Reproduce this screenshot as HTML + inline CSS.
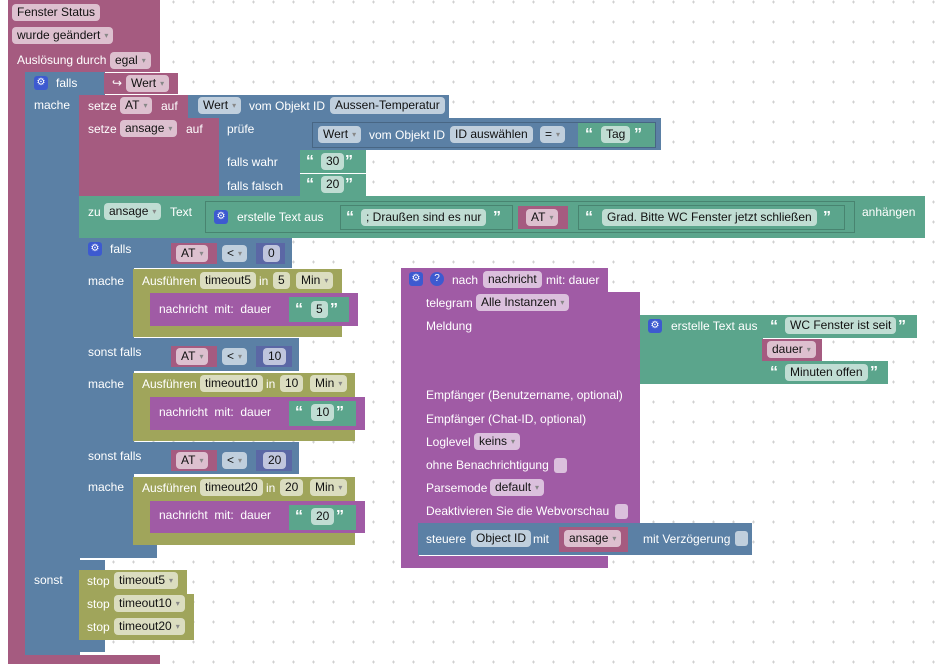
<!DOCTYPE html>
<html><head><meta charset="utf-8"><style>
body{margin:0;width:940px;height:671px;overflow:hidden;background:#fff;
background-image:linear-gradient(#d4d4d4,#d4d4d4),linear-gradient(#d4d4d4,#d4d4d4);background-size:20px 20px,20px 20px;
font-family:"Liberation Sans",Arial,sans-serif;font-size:12px;position:relative}
.grid{position:absolute;left:0;top:0;width:940px;height:671px;
background-image:linear-gradient(to right,transparent 12px,#d0d0d0 12px,#d0d0d0 13px,transparent 13px),linear-gradient(to bottom,transparent 1px,#d0d0d0 1px,#d0d0d0 2px,transparent 2px);
background-size:20px 20px;opacity:0}
div,span{position:absolute;box-sizing:border-box}
.pk{background:#a55b80}.bl{background:#5b80a5}.gr{background:#5ba58c}.ol{background:#a0a55b}.pu{background:#a05ba5}.nb{background:#5b67a5}
.t{color:#fff;white-space:nowrap;line-height:14px}
.p{background:rgba(255,255,255,.62);color:#111;border-radius:4px;height:17px;line-height:17px;padding:0 5px;white-space:nowrap}
.a{color:#888;font-size:8px;margin-left:4px;position:static;vertical-align:1px}
.in{border:1px solid rgba(0,0,0,.2)}
.g{background:#3d5ad0;border-radius:3px;width:14px;height:14px;color:#fff;font-size:10px;text-align:center;line-height:14px}
.q{color:#fff;font-weight:bold;font-size:16px;line-height:16px}
.cb{background:rgba(255,255,255,.62);border-radius:3px;width:13px;height:15px}
</style></head><body style="background-image:none">
<svg style="position:absolute;left:0;top:0" width="940" height="671"><defs><pattern id="d" width="20" height="20" patternUnits="userSpaceOnUse" x="3" y="-8"><path d="M9 10h3M10.5 8.5v3" stroke="#d0d0d0" stroke-width="1"/></pattern></defs><rect width="940" height="671" fill="url(#d)"/></svg>
<!-- main event block -->
<div class="pk" style="left:8px;top:0;width:152px;height:72px"></div>
<div class="pk" style="left:8px;top:72px;width:18px;height:592px"></div>
<div class="pk" style="left:8px;top:655px;width:152px;height:9px"></div>
<span class="p" style="left:12px;top:4px">Fenster Status</span>
<span class="p" style="left:12px;top:27px">wurde geändert<span class="a">▾</span></span>
<span class="t" style="left:17px;top:53px">Auslösung durch</span>
<span class="p" style="left:110px;top:52px">egal<span class="a">▾</span></span>
<!-- outer if -->
<div class="bl" style="left:25px;top:72px;width:80px;height:23px"></div>
<div class="bl" style="left:25px;top:95px;width:55px;height:560px"></div>
<div class="bl" style="left:25px;top:560px;width:80px;height:92px"></div>
<div class="g" style="left:34px;top:76px">⚙</div>
<span class="t" style="left:56px;top:76px">falls</span>
<span class="t" style="left:34px;top:98px">mache</span>
<span class="t" style="left:34px;top:573px">sonst</span>
<div class="pk" style="left:104px;top:73px;width:74px;height:21px"></div>
<span class="t" style="left:112px;top:76px">↪</span>
<span class="p" style="left:126px;top:75px">Wert<span class="a">▾</span></span>
<!-- setze AT -->
<div class="pk" style="left:79px;top:95px;width:110px;height:23px"></div>
<span class="t" style="left:88px;top:99px">setze</span>
<span class="p" style="left:120px;top:97px">AT<span class="a">▾</span></span>
<span class="t" style="left:161px;top:99px">auf</span>
<div class="bl" style="left:188px;top:95px;width:261px;height:23px"></div>
<span class="p" style="left:198px;top:97px">Wert<span class="a">▾</span></span>
<span class="t" style="left:249px;top:99px">vom Objekt ID</span>
<span class="p" style="left:330px;top:97px">Aussen-Temperatur</span>
<!-- setze ansage -->
<div class="pk" style="left:79px;top:118px;width:141px;height:78px"></div>
<span class="t" style="left:88px;top:122px">setze</span>
<span class="p" style="left:120px;top:120px">ansage<span class="a">▾</span></span>
<span class="t" style="left:186px;top:122px">auf</span>
<div class="bl" style="left:219px;top:118px;width:81px;height:78px"></div>
<div class="bl" style="left:299px;top:118px;width:362px;height:32px"></div>
<span class="t" style="left:227px;top:122px">prüfe</span>
<div class="bl in" style="left:312px;top:122px;width:344px;height:26px"></div>
<span class="p" style="left:318px;top:126px">Wert<span class="a">▾</span></span>
<span class="t" style="left:369px;top:128px">vom Objekt ID</span>
<span class="p" style="left:450px;top:126px">ID auswählen</span>
<span class="p" style="left:540px;top:126px">=<span class="a">▾</span></span>
<div class="gr" style="left:578px;top:123px;width:77px;height:24px"></div>
<span class="q" style="left:585px;top:127px">“</span>
<span class="p" style="left:601px;top:126px">Tag</span>
<span class="q" style="left:634px;top:127px">”</span>
<span class="t" style="left:227px;top:155px">falls wahr</span>
<div class="gr" style="left:300px;top:150px;width:66px;height:23px"></div>
<span class="q" style="left:306px;top:154px">“</span><span class="p" style="left:321px;top:153px">30</span><span class="q" style="left:345px;top:154px">”</span>
<span class="t" style="left:227px;top:179px">falls falsch</span>
<div class="gr" style="left:300px;top:174px;width:66px;height:22px"></div>
<span class="q" style="left:306px;top:177px">“</span><span class="p" style="left:321px;top:176px">20</span><span class="q" style="left:345px;top:177px">”</span>
<!-- zu ansage Text -->
<div class="gr" style="left:79px;top:196px;width:846px;height:42px"></div>
<span class="t" style="left:88px;top:205px">zu</span>
<span class="p" style="left:104px;top:203px">ansage<span class="a">▾</span></span>
<span class="t" style="left:170px;top:205px">Text</span>
<div class="gr in" style="left:205px;top:201px;width:650px;height:32px"></div>
<div class="g" style="left:214px;top:210px">⚙</div>
<span class="t" style="left:237px;top:210px">erstelle Text aus</span>
<div class="gr in" style="left:340px;top:205px;width:173px;height:25px"></div>
<span class="q" style="left:346px;top:210px">“</span><span class="p" style="left:361px;top:209px">; Draußen sind es nur</span><span class="q" style="left:493px;top:210px">”</span>
<div class="pk" style="left:518px;top:206px;width:50px;height:23px"></div>
<span class="p" style="left:526px;top:209px">AT<span class="a">▾</span></span>
<div class="gr in" style="left:578px;top:205px;width:267px;height:25px"></div>
<span class="q" style="left:585px;top:210px">“</span><span class="p" style="left:602px;top:209px">Grad. Bitte WC Fenster jetzt schließen</span><span class="q" style="left:823px;top:210px">”</span>
<span class="t" style="left:862px;top:205px">anhängen</span>
<!-- inner if -->
<div class="bl" style="left:79px;top:238px;width:55px;height:320px"></div>
<div class="bl" style="left:79px;top:238px;width:213px;height:30px"></div>
<div class="bl" style="left:79px;top:338px;width:220px;height:33px"></div>
<div class="bl" style="left:79px;top:442px;width:220px;height:32px"></div>
<div class="bl" style="left:79px;top:545px;width:78px;height:13px"></div>
<div class="g" style="left:88px;top:242px">⚙</div>
<span class="t" style="left:110px;top:242px">falls</span>
<span class="t" style="left:88px;top:274px">mache</span>
<span class="t" style="left:88px;top:345px">sonst falls</span>
<span class="t" style="left:88px;top:377px">mache</span>
<span class="t" style="left:88px;top:449px">sonst falls</span>
<span class="t" style="left:88px;top:480px">mache</span>
<!-- conditions -->
<div class="pk" style="left:171px;top:243px;width:46px;height:21px"></div><span class="p" style="left:176px;top:245px">AT<span class="a">▾</span></span>
<span class="p" style="left:222px;top:245px">&lt;<span class="a">▾</span></span>
<div class="nb" style="left:256px;top:243px;width:29px;height:21px"></div><span class="p" style="left:263px;top:245px">0</span>
<div class="pk" style="left:171px;top:346px;width:46px;height:21px"></div><span class="p" style="left:176px;top:348px">AT<span class="a">▾</span></span>
<span class="p" style="left:222px;top:348px">&lt;<span class="a">▾</span></span>
<div class="nb" style="left:256px;top:346px;width:36px;height:21px"></div><span class="p" style="left:263px;top:348px">10</span>
<div class="pk" style="left:171px;top:450px;width:46px;height:21px"></div><span class="p" style="left:176px;top:452px">AT<span class="a">▾</span></span>
<span class="p" style="left:222px;top:452px">&lt;<span class="a">▾</span></span>
<div class="nb" style="left:256px;top:450px;width:36px;height:21px"></div><span class="p" style="left:263px;top:452px">20</span>
<!-- Ausführen 1 -->
<div class="ol" style="left:133px;top:269px;width:209px;height:24px"></div>
<div class="ol" style="left:133px;top:293px;width:18px;height:38px"></div>
<div class="ol" style="left:133px;top:325px;width:209px;height:12px"></div>
<span class="t" style="left:142px;top:274px">Ausführen</span>
<span class="p" style="left:200px;top:272px">timeout5</span><span class="t" style="left:259px;top:274px">in</span>
<span class="p" style="left:273px;top:272px">5</span><span class="p" style="left:296px;top:272px">Min<span class="a">▾</span></span>
<div class="pu" style="left:150px;top:293px;width:208px;height:33px"></div>
<span class="t" style="left:159px;top:302px">nachricht&nbsp; mit:&nbsp; dauer</span>
<div class="gr" style="left:289px;top:297px;width:60px;height:25px"></div>
<span class="q" style="left:295px;top:302px">“</span><span class="p" style="left:311px;top:301px">5</span><span class="q" style="left:330px;top:302px">”</span>
<!-- Ausführen 2 -->
<div class="ol" style="left:133px;top:373px;width:222px;height:24px"></div>
<div class="ol" style="left:133px;top:397px;width:18px;height:38px"></div>
<div class="ol" style="left:133px;top:429px;width:222px;height:12px"></div>
<span class="t" style="left:142px;top:377px">Ausführen</span>
<span class="p" style="left:200px;top:375px">timeout10</span><span class="t" style="left:266px;top:377px">in</span>
<span class="p" style="left:280px;top:375px">10</span><span class="p" style="left:310px;top:375px">Min<span class="a">▾</span></span>
<div class="pu" style="left:150px;top:397px;width:215px;height:33px"></div>
<span class="t" style="left:159px;top:405px">nachricht&nbsp; mit:&nbsp; dauer</span>
<div class="gr" style="left:289px;top:401px;width:67px;height:25px"></div>
<span class="q" style="left:295px;top:405px">“</span><span class="p" style="left:311px;top:404px">10</span><span class="q" style="left:336px;top:405px">”</span>
<!-- Ausführen 3 -->
<div class="ol" style="left:133px;top:477px;width:222px;height:24px"></div>
<div class="ol" style="left:133px;top:501px;width:18px;height:38px"></div>
<div class="ol" style="left:133px;top:533px;width:222px;height:12px"></div>
<span class="t" style="left:142px;top:481px">Ausführen</span>
<span class="p" style="left:200px;top:479px">timeout20</span><span class="t" style="left:266px;top:481px">in</span>
<span class="p" style="left:280px;top:479px">20</span><span class="p" style="left:310px;top:479px">Min<span class="a">▾</span></span>
<div class="pu" style="left:150px;top:501px;width:215px;height:32px"></div>
<span class="t" style="left:159px;top:508px">nachricht&nbsp; mit:&nbsp; dauer</span>
<div class="gr" style="left:289px;top:505px;width:67px;height:25px"></div>
<span class="q" style="left:295px;top:509px">“</span><span class="p" style="left:311px;top:508px">20</span><span class="q" style="left:336px;top:509px">”</span>
<!-- stops -->
<div class="ol" style="left:79px;top:570px;width:108px;height:24px"></div>
<span class="t" style="left:87px;top:574px">stop</span><span class="p" style="left:114px;top:572px">timeout5<span class="a">▾</span></span>
<div class="ol" style="left:79px;top:594px;width:115px;height:23px"></div>
<span class="t" style="left:87px;top:597px">stop</span><span class="p" style="left:114px;top:595px">timeout10<span class="a">▾</span></span>
<div class="ol" style="left:79px;top:617px;width:115px;height:23px"></div>
<span class="t" style="left:87px;top:620px">stop</span><span class="p" style="left:114px;top:618px">timeout20<span class="a">▾</span></span>
<!-- function block -->
<div class="pu" style="left:401px;top:268px;width:207px;height:24px"></div>
<div class="pu" style="left:401px;top:290px;width:18px;height:278px"></div>
<div class="pu" style="left:401px;top:556px;width:207px;height:12px"></div>
<div class="g" style="left:409px;top:272px">⚙</div>
<div class="g" style="left:430px;top:272px;border-radius:7px">?</div>
<span class="t" style="left:452px;top:273px">nach</span>
<span class="p" style="left:483px;top:271px">nachricht</span>
<span class="t" style="left:546px;top:273px">mit: dauer</span>
<div class="pu" style="left:418px;top:292px;width:222px;height:232px"></div>
<span class="t" style="left:426px;top:296px">telegram</span>
<span class="p" style="left:476px;top:294px">Alle Instanzen<span class="a">▾</span></span>
<span class="t" style="left:426px;top:319px">Meldung</span>
<span class="t" style="left:426px;top:388px">Empfänger (Benutzername, optional)</span>
<span class="t" style="left:426px;top:412px">Empfänger (Chat-ID, optional)</span>
<span class="t" style="left:426px;top:435px">Loglevel</span><span class="p" style="left:474px;top:433px">keins<span class="a">▾</span></span>
<span class="t" style="left:426px;top:458px">ohne Benachrichtigung</span><div class="cb" style="left:554px;top:458px"></div>
<span class="t" style="left:426px;top:481px">Parsemode</span><span class="p" style="left:490px;top:479px">default<span class="a">▾</span></span>
<span class="t" style="left:426px;top:504px">Deaktivieren Sie die Webvorschau</span><div class="cb" style="left:615px;top:504px"></div>
<!-- green text in telegram -->
<div class="gr" style="left:640px;top:315px;width:277px;height:23px"></div>
<div class="gr" style="left:640px;top:338px;width:123px;height:46px"></div>
<div class="g" style="left:648px;top:319px">⚙</div>
<span class="t" style="left:671px;top:319px">erstelle Text aus</span>
<span class="q" style="left:770px;top:319px">“</span><span class="p" style="left:785px;top:317px">WC Fenster ist seit</span><span class="q" style="left:898px;top:319px">”</span>
<div class="pk" style="left:762px;top:339px;width:60px;height:22px"></div>
<span class="p" style="left:767px;top:341px">dauer<span class="a">▾</span></span>
<div class="gr" style="left:762px;top:361px;width:126px;height:23px"></div>
<span class="q" style="left:770px;top:365px">“</span><span class="p" style="left:785px;top:364px">Minuten offen</span><span class="q" style="left:870px;top:365px">”</span>
<!-- steuere -->
<div class="bl" style="left:418px;top:523px;width:334px;height:32px"></div>
<span class="t" style="left:426px;top:532px">steuere</span>
<span class="p" style="left:471px;top:530px">Object ID</span>
<span class="t" style="left:533px;top:532px">mit</span>
<div class="pk" style="left:559px;top:527px;width:69px;height:25px"></div>
<span class="p" style="left:564px;top:530px">ansage<span class="a">▾</span></span>
<span class="t" style="left:643px;top:532px">mit Verzögerung</span>
<div class="cb" style="left:735px;top:531px"></div>
</body></html>
